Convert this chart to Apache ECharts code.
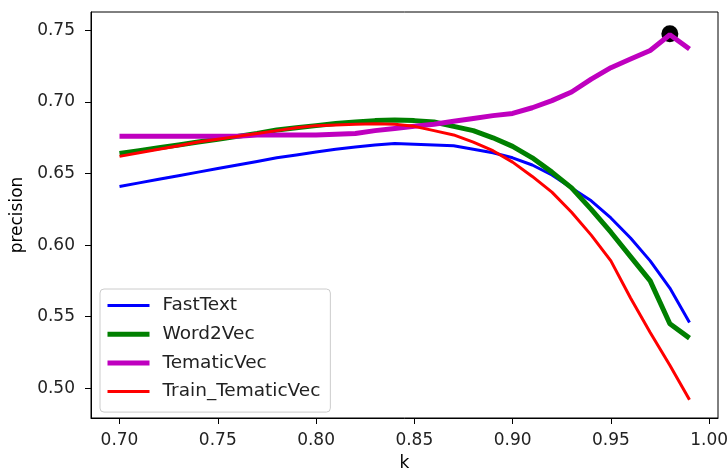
<!DOCTYPE html>
<html>
<head>
<meta charset="utf-8">
<script src="https://cdn.jsdelivr.net/npm/echarts@6/dist/echarts.min.js"></script>
<style>html,body{margin:0;padding:0;background:#fff}#c{width:727px;height:470px}</style>
</head>
<body>
<div id="c"></div>
<script>
const kValues = [0.70,0.71,0.72,0.73,0.74,0.75,0.76,0.77,0.78,0.79,0.80,0.81,0.82,0.83,0.84,0.85,0.86,0.87,0.88,0.89,0.90,0.91,0.92,0.93,0.94,0.95,0.96,0.97,0.98,0.99];
const fastText = [0.641,0.6435,0.646,0.6485,0.651,0.6535,0.656,0.6585,0.661,0.663,0.665,0.667,0.6685,0.670,0.671,0.6705,0.670,0.6695,0.667,0.6645,0.661,0.656,0.649,0.640,0.631,0.619,0.605,0.589,0.570,0.546];
const word2Vec = [0.664,0.666,0.668,0.670,0.672,0.674,0.676,0.678,0.6805,0.682,0.6835,0.685,0.686,0.687,0.6875,0.687,0.686,0.683,0.680,0.675,0.669,0.661,0.651,0.640,0.625,0.609,0.592,0.575,0.545,0.535];
const tematicVec = [0.676,0.676,0.676,0.676,0.676,0.676,0.676,0.677,0.677,0.677,0.677,0.6775,0.678,0.680,0.6815,0.683,0.6845,0.6865,0.6885,0.6905,0.692,0.696,0.701,0.707,0.716,0.724,0.730,0.736,0.747,0.737];
const trainTematicVec = [0.662,0.6645,0.667,0.6695,0.672,0.674,0.676,0.678,0.680,0.682,0.6835,0.684,0.6845,0.6848,0.6845,0.683,0.680,0.677,0.672,0.666,0.658,0.648,0.637,0.623,0.607,0.589,0.563,0.539,0.516,0.492];
const bestPoint = [0.98, 0.7477];
const xTicks = [0.70,0.75,0.80,0.85,0.90,0.95,1.00];
const yTicks = [0.50,0.55,0.60,0.65,0.70,0.75];
const seriesNames = ['FastText','Word2Vec','TematicVec','Train_TematicVec'];

const pairs = arr => kValues.map((k,i)=>[k,arr[i]]);
const font = 'DejaVu Sans';
const styles = {
  FastText:{color:'#0000ff',width:3},
  Word2Vec:{color:'#008000',width:5},
  TematicVec:{color:'#bf00bf',width:5},
  Train_TematicVec:{color:'#ff0000',width:3}
};
const chart = echarts.init(document.getElementById('c'), null, {renderer:'canvas'});
function mk(name, arr){
  const s = styles[name];
  return {name, type:'line', data:pairs(arr), symbol:'none', smooth:false,
    lineStyle:{color:s.color, width:s.width}, itemStyle:{color:s.color}, z:3, animation:false};
}
chart.setOption({
  animation:false,
  backgroundColor:'#fff',
  grid:{left:91,right:9,top:12,bottom:52,show:true,borderColor:'#000',borderWidth:1,outerBoundsMode:'none'},
  xAxis:{type:'value',min:0.6855,max:1.0045,
    name:'k',nameLocation:'middle',nameGap:37,nameTextStyle:{fontFamily:font,fontSize:17,color:'#000'},
    axisLine:{show:true,onZero:false,lineStyle:{color:'#000',width:1}},
    axisTick:{show:true,length:6,customValues:xTicks,lineStyle:{color:'#000'}},
    axisLabel:{customValues:xTicks,formatter:v=>v.toFixed(2),margin:14,fontFamily:font,fontSize:17,color:'#222'},
    splitLine:{show:false}},
  yAxis:{type:'value',min:0.4792,max:0.7629,
    name:'precision',nameLocation:'middle',nameGap:65,nameRotate:90,nameTextStyle:{fontFamily:font,fontSize:17,color:'#000'},
    axisLine:{show:true,onZero:false,lineStyle:{color:'#000',width:1}},
    axisTick:{show:true,length:6,customValues:yTicks,lineStyle:{color:'#000'}},
    axisLabel:{customValues:yTicks,formatter:v=>v.toFixed(2),margin:16,fontFamily:font,fontSize:17,color:'#222'},
    splitLine:{show:false}},
  legend:{data:seriesNames.map(n=>({name:n,lineStyle:{width:styles[n].width,color:styles[n].color}})),
    orient:'vertical',left:100,top:289,
    itemWidth:42,itemHeight:14,itemGap:9.7,padding:[7,10,11,5],
    itemStyle:{opacity:0},
    backgroundColor:'rgba(255,255,255,0.8)',borderColor:'#ccc',borderWidth:1,borderRadius:4,
    textStyle:{fontFamily:font,fontSize:18.5,lineHeight:18,color:'#222',padding:[0,0,0,8]}},
  series:[
    {name:'best',type:'scatter',data:[bestPoint],symbol:'circle',symbolSize:17,itemStyle:{color:'#000',opacity:1},z:2,animation:false},
    mk('FastText',fastText),
    mk('Word2Vec',word2Vec),
    mk('TematicVec',tematicVec),
    mk('Train_TematicVec',trainTematicVec)
  ]
});
</script>
</body>
</html>
